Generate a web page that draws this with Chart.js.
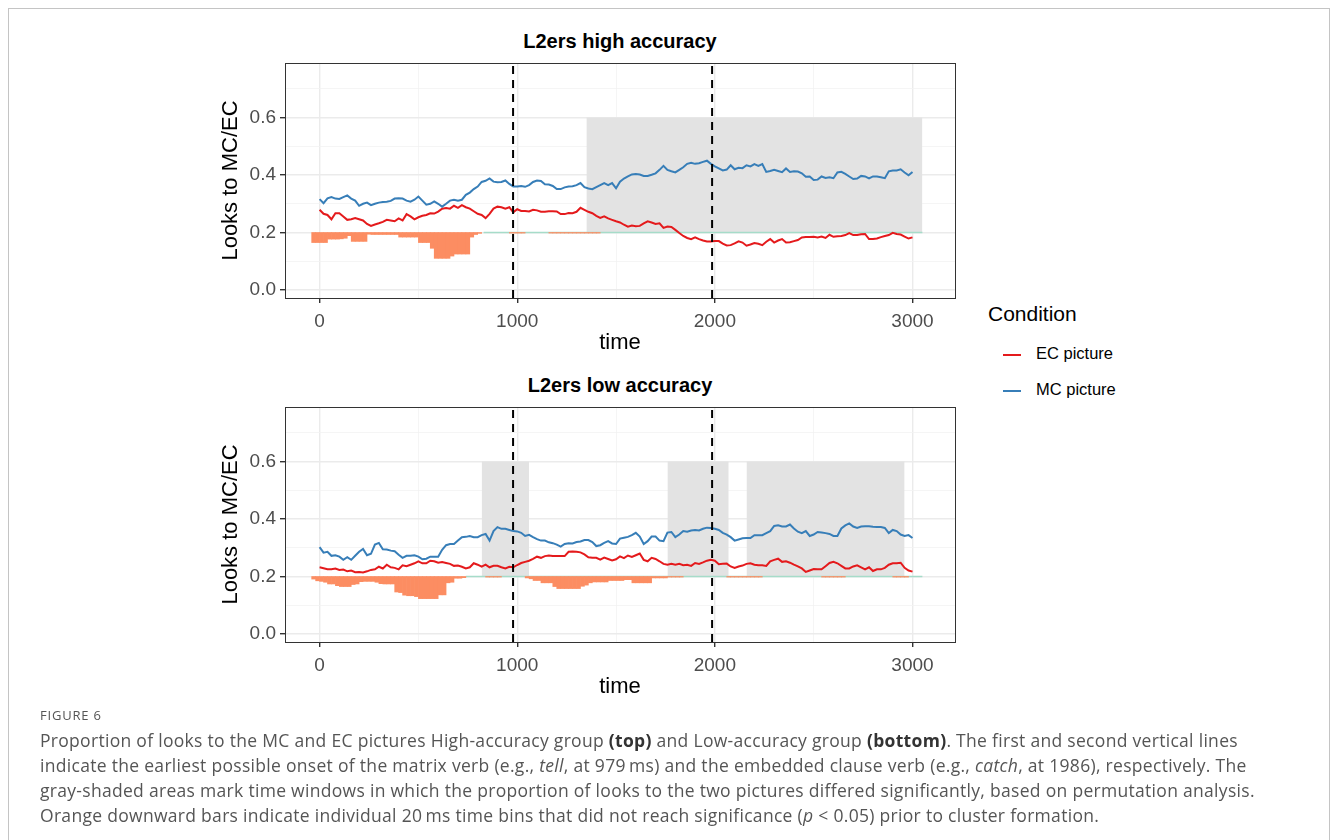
<!DOCTYPE html>
<html>
<head>
<meta charset="utf-8">
<script src="https://cdn.jsdelivr.net/npm/chart.js@4.4.1/dist/chart.umd.min.js"></script>
<style>
  body { margin: 0; background: #fff; width: 1333px; height: 840px; position: relative; overflow: hidden; font-family: "Liberation Sans", Arial, sans-serif; }
  .frame { position: absolute; left: 8px; top: 8px; width: 1320px; height: 900px; border: 1px solid #c4c4c4; }
  canvas { position: absolute; }
  .ptitle { position: absolute; width: 670px; left: 285px; text-align: center; font-weight: bold; font-size: 20px; color: #000; }
  .legend { position: absolute; left: 988px; top: 302px; color: #000; white-space: nowrap; }
  .legend .head { font-size: 21px; margin-bottom: 18px; }
  .legend .item { position: relative; height: 36px; font-size: 16.5px; }
  .legend .key { position: absolute; left: 15px; top: 10px; width: 18px; height: 2px; }
  .legend .lab { position: absolute; left: 48px; top: 0px; }
  .caption { position: absolute; left: 40px; top: 706px; font-family: "Open Sans", sans-serif; color: #555; }
  .caption .fig { font-size: 13px; letter-spacing: 0.8px; margin-bottom: 4px; }
  .caption .ln { font-size: 17.5px; letter-spacing: 0.3px; line-height: 25px; white-space: nowrap; }
  .caption b { color: #333; }
</style>
</head>
<body>
<div class="frame"></div>

<div class="ptitle" style="top:30px">L2ers high accuracy</div>
<div class="ptitle" style="top:374px">L2ers low accuracy</div>

<canvas id="top" width="770" height="340" style="left:200px; top:30px"></canvas>
<canvas id="bottom" width="770" height="340" style="left:200px; top:374px"></canvas>

<div class="legend">
  <div class="head">Condition</div>
  <div class="item"><div class="key" style="background:#e41a1c"></div><div class="lab">EC picture</div></div>
  <div class="item"><div class="key" style="background:#377eb8"></div><div class="lab">MC picture</div></div>
</div>

<div class="caption">
  <div class="fig">FIGURE 6</div>
  <div class="ln">Proportion of looks to the MC and EC pictures High-accuracy group <b>(top)</b> and Low-accuracy group <b>(bottom)</b>. The first and second vertical lines</div>
  <div class="ln">indicate the earliest possible onset of the matrix verb (e.g., <i>tell</i>, at 979&#8201;ms) and the embedded clause verb (e.g., <i>catch</i>, at 1986), respectively. The</div>
  <div class="ln">gray-shaded areas mark time windows in which the proportion of looks to the two pictures differed significantly, based on permutation analysis.</div>
  <div class="ln">Orange downward bars indicate individual 20&#8201;ms time bins that did not reach significance (<i>p</i> &lt; 0.05) prior to cluster formation.</div>
</div>

<script>
// time bins, 0..3000 ms every 20 ms
const times = [];
for (let t = 0; t <= 3000; t += 20) times.push(t);

// axis breaks (majors get labels)
const xTicks = [0, 500, 1000, 1500, 2000, 2500, 3000];

// high accuracy group
const highEC = [
  0.279, 0.265, 0.261, 0.246, 0.267, 0.267, 0.256, 0.244, 0.246, 0.250,
  0.246, 0.242, 0.230, 0.223, 0.228, 0.232, 0.237, 0.244, 0.242, 0.239,
  0.249, 0.242, 0.264, 0.256, 0.246, 0.253, 0.258, 0.261, 0.267, 0.266,
  0.273, 0.283, 0.285, 0.283, 0.293, 0.286, 0.295, 0.288, 0.283, 0.274,
  0.265, 0.261, 0.250, 0.265, 0.283, 0.290, 0.288, 0.283, 0.288, 0.270,
  0.281, 0.275, 0.275, 0.273, 0.279, 0.277, 0.272, 0.272, 0.274, 0.274,
  0.273, 0.264, 0.264, 0.268, 0.267, 0.272, 0.286, 0.279, 0.272, 0.267,
  0.258, 0.251, 0.256, 0.249, 0.244, 0.239, 0.235, 0.227, 0.220, 0.224,
  0.222, 0.223, 0.232, 0.239, 0.235, 0.230, 0.232, 0.216, 0.221, 0.219,
  0.209, 0.198, 0.188, 0.181, 0.177, 0.183, 0.177, 0.172, 0.169, 0.169,
  0.170, 0.170, 0.161, 0.155, 0.156, 0.162, 0.169, 0.165, 0.154, 0.158,
  0.163, 0.161, 0.156, 0.168, 0.177, 0.165, 0.172, 0.177, 0.165, 0.166,
  0.170, 0.174, 0.183, 0.184, 0.184, 0.185, 0.183, 0.186, 0.181, 0.192,
  0.185, 0.187, 0.188, 0.191, 0.198, 0.191, 0.191, 0.194, 0.195, 0.177,
  0.177, 0.179, 0.184, 0.188, 0.191, 0.199, 0.195, 0.193, 0.186, 0.179,
  0.183
];
const highMC = [
  0.316, 0.302, 0.319, 0.323, 0.318, 0.317, 0.323, 0.329, 0.318, 0.311,
  0.293, 0.300, 0.304, 0.295, 0.300, 0.304, 0.306, 0.307, 0.310, 0.318,
  0.319, 0.318, 0.311, 0.307, 0.314, 0.325, 0.311, 0.297, 0.300, 0.308,
  0.300, 0.290, 0.300, 0.311, 0.314, 0.311, 0.314, 0.331, 0.339, 0.351,
  0.360, 0.376, 0.380, 0.388, 0.377, 0.375, 0.376, 0.381, 0.369, 0.360,
  0.360, 0.362, 0.359, 0.365, 0.376, 0.381, 0.379, 0.368, 0.367, 0.362,
  0.351, 0.351, 0.357, 0.360, 0.361, 0.365, 0.372, 0.358, 0.353, 0.351,
  0.358, 0.365, 0.372, 0.365, 0.372, 0.354, 0.377, 0.388, 0.395, 0.402,
  0.404, 0.402, 0.397, 0.397, 0.401, 0.406, 0.418, 0.432, 0.418, 0.413,
  0.409, 0.418, 0.427, 0.439, 0.443, 0.439, 0.441, 0.446, 0.450, 0.439,
  0.430, 0.423, 0.416, 0.419, 0.434, 0.420, 0.425, 0.424, 0.434, 0.430,
  0.438, 0.432, 0.438, 0.411, 0.414, 0.418, 0.414, 0.410, 0.423, 0.411,
  0.413, 0.412, 0.406, 0.394, 0.395, 0.383, 0.384, 0.395, 0.390, 0.392,
  0.389, 0.409, 0.411, 0.404, 0.395, 0.386, 0.388, 0.397, 0.395, 0.388,
  0.395, 0.395, 0.392, 0.389, 0.413, 0.416, 0.416, 0.420, 0.409, 0.399,
  0.411
];

// low accuracy group
const lowEC = [
  0.232, 0.229, 0.225, 0.225, 0.228, 0.223, 0.224, 0.218, 0.221, 0.215,
  0.216, 0.214, 0.218, 0.223, 0.225, 0.234, 0.228, 0.241, 0.232, 0.230,
  0.225, 0.239, 0.236, 0.241, 0.246, 0.253, 0.246, 0.246, 0.255, 0.253,
  0.248, 0.250, 0.247, 0.244, 0.237, 0.238, 0.234, 0.228, 0.232, 0.246,
  0.241, 0.234, 0.241, 0.232, 0.237, 0.237, 0.232, 0.228, 0.234, 0.232,
  0.240, 0.247, 0.251, 0.255, 0.261, 0.269, 0.265, 0.271, 0.273, 0.271,
  0.271, 0.271, 0.271, 0.286, 0.287, 0.286, 0.284, 0.277, 0.267, 0.265,
  0.265, 0.259, 0.266, 0.261, 0.256, 0.260, 0.270, 0.264, 0.273, 0.268,
  0.274, 0.280, 0.258, 0.253, 0.265, 0.261, 0.253, 0.244, 0.241, 0.244,
  0.241, 0.244, 0.239, 0.241, 0.237, 0.247, 0.244, 0.249, 0.255, 0.258,
  0.255, 0.243, 0.244, 0.245, 0.235, 0.230, 0.235, 0.238, 0.244, 0.246,
  0.241, 0.239, 0.239, 0.237, 0.253, 0.258, 0.262, 0.251, 0.253, 0.248,
  0.241, 0.235, 0.228, 0.216, 0.221, 0.226, 0.225, 0.225, 0.236, 0.247,
  0.251, 0.246, 0.237, 0.228, 0.228, 0.235, 0.239, 0.232, 0.225, 0.232,
  0.219, 0.225, 0.225, 0.230, 0.241, 0.246, 0.246, 0.248, 0.230, 0.221,
  0.217
];
const lowMC = [
  0.302, 0.283, 0.286, 0.272, 0.274, 0.269, 0.258, 0.267, 0.258, 0.272,
  0.286, 0.296, 0.274, 0.279, 0.311, 0.317, 0.295, 0.294, 0.290, 0.288,
  0.276, 0.265, 0.272, 0.272, 0.274, 0.269, 0.260, 0.262, 0.269, 0.269,
  0.269, 0.293, 0.309, 0.313, 0.313, 0.325, 0.337, 0.338, 0.341, 0.337,
  0.337, 0.344, 0.348, 0.325, 0.358, 0.372, 0.366, 0.366, 0.362, 0.358,
  0.357, 0.352, 0.341, 0.345, 0.337, 0.330, 0.325, 0.325, 0.319, 0.316,
  0.311, 0.304, 0.313, 0.316, 0.315, 0.320, 0.322, 0.327, 0.327, 0.320,
  0.306, 0.309, 0.317, 0.323, 0.315, 0.313, 0.332, 0.335, 0.338, 0.344,
  0.352, 0.339, 0.313, 0.323, 0.339, 0.339, 0.325, 0.323, 0.353, 0.355,
  0.337, 0.346, 0.358, 0.356, 0.360, 0.362, 0.360, 0.366, 0.370, 0.369,
  0.366, 0.362, 0.352, 0.346, 0.337, 0.325, 0.329, 0.333, 0.334, 0.334,
  0.344, 0.344, 0.344, 0.351, 0.358, 0.376, 0.378, 0.374, 0.374, 0.381,
  0.367, 0.356, 0.351, 0.358, 0.341, 0.346, 0.355, 0.353, 0.351, 0.348,
  0.341, 0.341, 0.367, 0.378, 0.385, 0.374, 0.369, 0.374, 0.375, 0.375,
  0.373, 0.372, 0.372, 0.369, 0.351, 0.362, 0.358, 0.346, 0.341, 0.344,
  0.334
];

// non-significant 20 ms bins: bar bottoms (bars hang from 0.2), first bin centred at -30 ms
const highBarStart = -30;
const highBars = [
  0.165, 0.165, 0.165, 0.165, 0.177, 0.177, 0.177, 0.178, 0.180, 0.189,
  0.169, 0.169, 0.169, 0.169, 0.194, 0.193, 0.193, 0.193, 0.193, 0.193,
  0.193, 0.193, 0.184, 0.184, 0.184, 0.184, 0.184, 0.165, 0.165, 0.165,
  0.145, 0.110, 0.110, 0.110, 0.110, 0.118, 0.125, 0.125, 0.125, 0.125,
  0.184, 0.193, 0.197, null, null, null, null, null, null, null,
  0.198, 0.198, 0.198, 0.198, null, null, null, null, null, null,
  0.198, 0.198, 0.198, 0.198, 0.198, 0.198, 0.198, 0.198, 0.198, 0.198,
  0.198, 0.198, 0.198
];
const lowBarStart = -30;
const lowBars = [
  0.191, 0.185, 0.183, 0.180, 0.174, 0.174, 0.168, 0.165, 0.165, 0.165,
  0.172, 0.174, 0.182, 0.183, 0.183, 0.183, 0.180, 0.175, 0.174, 0.174,
  0.174, 0.146, 0.144, 0.135, 0.133, 0.133, 0.130, 0.123, 0.123, 0.123,
  0.123, 0.123, 0.136, 0.136, 0.178, 0.180, 0.194, 0.194, 0.196, null,
  null, null, null, null, 0.198, 0.198, 0.198, 0.198, null, null,
  null, null, null, null, 0.195, 0.192, 0.186, 0.186, 0.178, 0.178,
  0.178, 0.165, 0.158, 0.158, 0.158, 0.158, 0.158, 0.158, 0.166, 0.170,
  0.178, 0.181, 0.181, 0.181, 0.181, 0.186, 0.186, 0.186, 0.186, 0.189,
  0.189, 0.178, 0.178, 0.178, 0.178, 0.178, 0.195, 0.195, 0.195, 0.195,
  0.198, 0.198, 0.198, 0.198
];
// a few faint bins later on in the low group
const lowFaintBins = [2070, 2090, 2110, 2130, 2150, 2170, 2190, 2210, 2230, 2550, 2570, 2590, 2610, 2630, 2650, 2910, 2930, 2950, 2970];

// significant clusters (ms)
const highWindows = [[1350, 3050]];
const lowWindows = [[820, 1060], [1760, 2070], [2160, 2960]];

// verb onsets
const onsets = [979, 1986];

// where the flat (teal) baseline runs
const highTeal = [830, 3050];
const lowTeal = [740, 3050];

const X_MIN = -175, X_MAX = 3215, Y_MIN = -0.028, Y_MAX = 0.79;
const BASE = 0.2, SHADE_TOP = 0.6;

const panelBorder = {
  id: 'panelBorder',
  afterDatasetsDraw(chart) {
    const a = chart.chartArea, c = chart.ctx;
    c.save();
    c.strokeStyle = '#333';
    c.lineWidth = 1;
    c.strokeRect(Math.round(a.left) + 0.5, Math.round(a.top) + 0.5, Math.round(a.right - a.left), Math.round(a.bottom - a.top));
    c.restore();
  }
};

function makePanel(id, ec, mc, barStart, bars, faint, windows, teal) {
  const barPts = [];
  bars.forEach((v, i) => { if (v !== null) barPts.push({ x: barStart + 20 * i, y: [BASE, v] }); });
  faint.forEach(t => barPts.push({ x: t, y: [BASE, 0.198] }));

  const datasets = [];
  windows.forEach(w => {
    datasets.push({
      type: 'line', data: [{ x: w[0], y: SHADE_TOP }, { x: w[1], y: SHADE_TOP }],
      borderWidth: 0, borderColor: 'rgba(0,0,0,0)', backgroundColor: '#e3e3e3',
      pointRadius: 0, fill: { value: BASE }, order: 10
    });
  });
  datasets.push({
    type: 'line', data: [{ x: teal[0], y: BASE }, { x: teal[1], y: BASE }],
    borderColor: '#a6dcc9', borderWidth: 1.5, pointRadius: 0, fill: false, order: 6
  });
  datasets.push({
    type: 'bar', data: barPts, backgroundColor: '#fc8d62', borderWidth: 0,
    barPercentage: 1, categoryPercentage: 1, order: 5
  });
  datasets.push({
    type: 'line', label: 'EC picture', data: times.map((t, i) => ({ x: t, y: ec[i] })),
    borderColor: '#e41a1c', borderWidth: 2, pointRadius: 0, fill: false, tension: 0, order: 3
  });
  datasets.push({
    type: 'line', label: 'MC picture', data: times.map((t, i) => ({ x: t, y: mc[i] })),
    borderColor: '#377eb8', borderWidth: 2, pointRadius: 0, fill: false, tension: 0, order: 2
  });
  onsets.forEach(t => {
    datasets.push({
      type: 'line', data: [{ x: t, y: Y_MIN }, { x: t, y: Y_MAX }],
      borderColor: '#000', borderWidth: 2, borderDash: [8, 6], pointRadius: 0, fill: false, order: 1
    });
  });

  const isMajX = v => Math.abs(v % 1000) < 1e-6;
  const isMajY = v => Math.round(v * 10) % 2 === 0;
  const majX = c => !!(c.tick && isMajX(c.tick.value));
  const majY = c => !!(c.tick && isMajY(c.tick.value));
  const tickFont = { size: 19, family: '"Liberation Sans", Arial, sans-serif' };
  const titleFont = { size: 22, family: '"Liberation Sans", Arial, sans-serif' };

  return new Chart(document.getElementById(id), {
    type: 'line',
    data: { datasets },
    plugins: [panelBorder],
    options: {
      responsive: false,
      devicePixelRatio: 1,
      animation: false,
      layout: { padding: { top: 33, right: 15, bottom: 0, left: 0 } },
      plugins: { legend: { display: false }, tooltip: { enabled: false } },
      scales: {
        x: {
          type: 'linear', min: X_MIN, max: X_MAX, offset: false,
          afterBuildTicks: s => { s.ticks = xTicks.map(v => ({ value: v })); },
          afterFit: s => { s.height = 72; },
          border: { display: false },
          grid: {
            offset: false,
            color: c => majX(c) ? '#ebebeb' : '#f3f3f3',
            lineWidth: c => majX(c) ? 1.4 : 0.8,
            tickColor: c => majX(c) ? '#333' : 'rgba(0,0,0,0)',
            tickLength: 5
          },
          ticks: {
            autoSkip: false, maxRotation: 0,
            padding: 7, color: '#4d4d4d', font: tickFont,
            callback: v => isMajX(v) ? String(v) : ''
          },
          title: {
            display: true, text: 'time', color: '#000', font: titleFont,
            padding: { top: 0, bottom: 14 }
          }
        },
        y: {
          type: 'linear', min: Y_MIN, max: Y_MAX, beginAtZero: false,
          afterFit: s => { s.width = 85; },
          border: { display: false },
          grid: {
            color: c => majY(c) ? '#ebebeb' : '#f3f3f3',
            lineWidth: c => majY(c) ? 1.4 : 0.8,
            tickColor: c => majY(c) ? '#333' : 'rgba(0,0,0,0)',
            tickLength: 5
          },
          ticks: {
            stepSize: 0.1, includeBounds: false, autoSkip: false,
            padding: 4, color: '#4d4d4d', font: tickFont,
            callback: v => isMajY(v) ? v.toFixed(1) : ''
          },
          title: {
            display: true, text: 'Looks to MC/EC', color: '#000', font: titleFont,
            padding: { top: 18, bottom: 0 }
          }
        }
      }
    }
  });
}

makePanel('top', highEC, highMC, highBarStart, highBars, [], highWindows, highTeal);
makePanel('bottom', lowEC, lowMC, lowBarStart, lowBars, lowFaintBins, lowWindows, lowTeal);
</script>
</body>
</html>
